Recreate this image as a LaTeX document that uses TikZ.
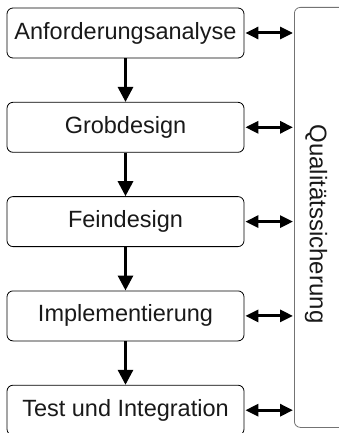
\documentclass[tikz,border=0pt]{standalone}
\usepackage{fontspec}
\setmainfont{Liberation Sans}
\usetikzlibrary{shapes,arrows.meta,positioning}

\begin{document}
\begin{tikzpicture}[x=1pt,y=1pt]
            % Estilos
            \tikzstyle{phase}=[draw, rectangle, rounded corners=6pt, minimum height=50pt, minimum width=237pt, text centered, text=black!90, line width=0.8pt, font=\fontsize{23.5}{28}\selectfont]
            \tikzstyle{qsframe}=[draw=black!55, rectangle, rounded corners=6pt, minimum height=420pt, minimum width=90pt, line width=0.8pt]
            \tikzstyle{flow}=[-{Triangle[length=15pt,width=15pt]}, line width=3pt]
            \tikzstyle{check}=[{Triangle[length=13pt,width=12pt]}-{Triangle[length=13pt,width=12pt]}, line width=3pt, shorten <=1pt, shorten >=1pt]

            \useasboundingbox (0,0) rectangle (339,-433);

            % Nodos
            \node[phase] (anforderung) at (125.5,-33) {Anforderungsanalyse};
            \node[phase, below=43.5pt of anforderung] (grobdesign) {Grobdesign};
            \node[phase, below=43.5pt of grobdesign] (feindesign) {Feindesign};
            \node[phase, below=43.5pt of feindesign] (implementierung) {Implementierung};
            \node[phase, below=43.5pt of implementierung] (test) {Test und Integration};

            \node[qsframe, anchor=north west] (qs) at (294,-7) {};
            \node[rotate=-90, text=black!90, font=\fontsize{24}{28}\selectfont] (qstext) at (316,-224) {Qualitätssicherung};

            % Flechas
            \draw[flow] (anforderung.south) -- (grobdesign.north);
            \draw[flow] (grobdesign.south) -- (feindesign.north);
            \draw[flow] (feindesign.south) -- (implementierung.north);
            \draw[flow] (implementierung.south) -- (test.north);

            \draw[check] (anforderung.east) -- (anforderung.east -| qs.west);
            \draw[check] (grobdesign.east) -- (grobdesign.east -| qs.west);
            \draw[check] (feindesign.east) -- (feindesign.east -| qs.west);
            \draw[check] (implementierung.east) -- (implementierung.east -| qs.west);
            \draw[check] (test.east) -- (test.east -| qs.west);
\end{tikzpicture}
\end{document}
